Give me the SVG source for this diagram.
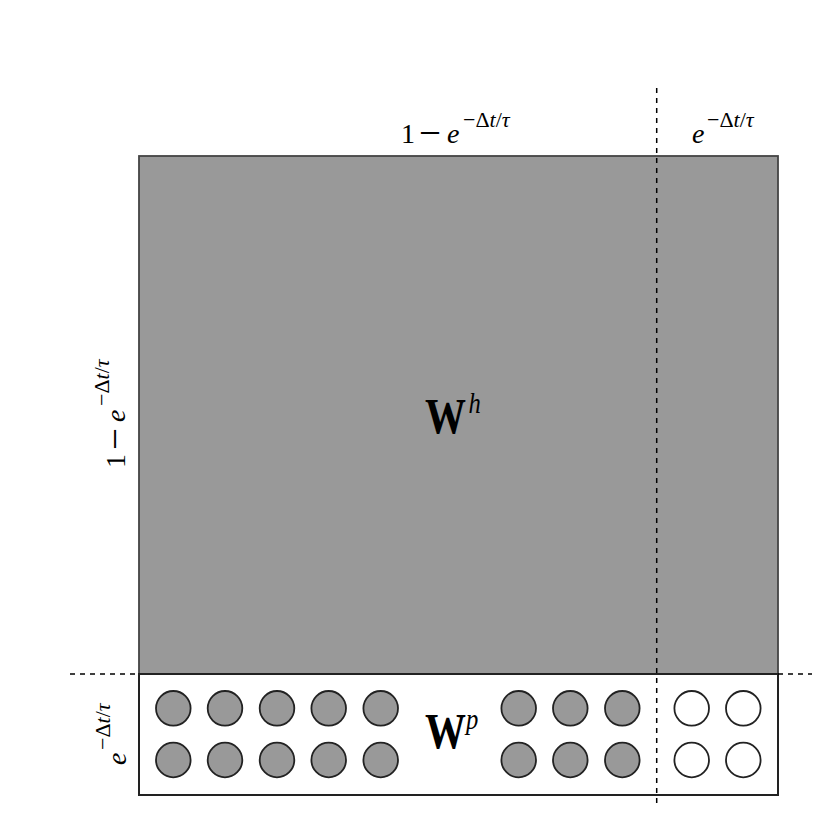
<svg xmlns="http://www.w3.org/2000/svg" width="831" height="831" viewBox="0 0 831 831">
<style>
.lbl{font-family:"Liberation Serif","DejaVu Serif",serif;font-size:28px;fill:#000}
.it{font-style:italic}
.sup{font-size:22px}
.mn{font-size:39px}
.big{font-family:"Liberation Serif","DejaVu Serif",serif;font-size:50px;font-weight:bold;fill:#000}
.bsup{font-size:30px;font-style:italic;font-weight:normal}
.dash{stroke:#000;stroke-width:1.5;stroke-dasharray:5,5;fill:none}
.g{fill:#999;stroke:#222;stroke-width:1.8}
.w{fill:#fff;stroke:#222;stroke-width:1.8}
</style>
<rect width="831" height="831" fill="#fff"/>
<g id="Wh">
<rect x="139" y="156" width="639" height="518" fill="#999" stroke="#444" stroke-width="1.8"/>
<text class="big" transform="translate(425,433) scale(0.82,1)"><tspan x="0">W</tspan><tspan class="bsup" x="53" dy="-20">h</tspan></text>
</g>
<g id="Wp">
<rect x="139" y="674" width="639" height="121" fill="#fff" stroke="#222" stroke-width="2"/>
<text class="big" transform="translate(425,748) scale(0.82,1)"><tspan x="0">W</tspan><tspan class="bsup" x="50" dy="-19">p</tspan></text>
<circle class="g" cx="173.3" cy="708.3" r="17.3"/><circle class="g" cx="225" cy="708.3" r="17.3"/><circle class="g" cx="277" cy="708.3" r="17.3"/><circle class="g" cx="328.7" cy="708.3" r="17.3"/><circle class="g" cx="380.7" cy="708.3" r="17.3"/>
<circle class="g" cx="173.3" cy="760" r="17.3"/><circle class="g" cx="225" cy="760" r="17.3"/><circle class="g" cx="277" cy="760" r="17.3"/><circle class="g" cx="328.7" cy="760" r="17.3"/><circle class="g" cx="380.7" cy="760" r="17.3"/>
<circle class="g" cx="518.7" cy="708.3" r="17.3"/><circle class="g" cx="570.3" cy="708.3" r="17.3"/><circle class="g" cx="622.3" cy="708.3" r="17.3"/>
<circle class="g" cx="518.7" cy="760" r="17.3"/><circle class="g" cx="570.3" cy="760" r="17.3"/><circle class="g" cx="622.3" cy="760" r="17.3"/>
<circle class="w" cx="691.7" cy="708.3" r="17.3"/><circle class="w" cx="743.3" cy="708.3" r="17.3"/>
<circle class="w" cx="691.7" cy="760" r="17.3"/><circle class="w" cx="743.3" cy="760" r="17.3"/>
</g>
<g id="connectors">
<line class="dash" x1="656.7" y1="88" x2="656.7" y2="808"/>
<line class="dash" x1="70" y1="674" x2="139" y2="674"/>
<line class="dash" x1="778" y1="674" x2="812" y2="674"/>
</g>
<g id="labels">
<text class="lbl" transform="translate(401,143)"><tspan x="0">1</tspan><tspan class="mn" x="18" dy="3">−</tspan><tspan x="46" dy="-3" class="it">e</tspan><tspan class="sup" x="62" dy="-16">−Δ<tspan class="it">t</tspan>/<tspan class="it">τ</tspan></tspan></text>
<text class="lbl" transform="translate(692,143)"><tspan x="0" class="it">e</tspan><tspan class="sup" x="15" dy="-16">−Δ<tspan class="it">t</tspan>/<tspan class="it">τ</tspan></tspan></text>
<text class="lbl" transform="translate(125,468) rotate(-90)"><tspan x="0">1</tspan><tspan class="mn" x="18" dy="3">−</tspan><tspan x="46" dy="-3" class="it">e</tspan><tspan class="sup" x="62" dy="-16">−Δ<tspan class="it">t</tspan>/<tspan class="it">τ</tspan></tspan></text>
<text class="lbl" transform="translate(126,765) rotate(-90)"><tspan x="0" class="it">e</tspan><tspan class="sup" x="15" dy="-16">−Δ<tspan class="it">t</tspan>/<tspan class="it">τ</tspan></tspan></text>
</g>
</svg>
